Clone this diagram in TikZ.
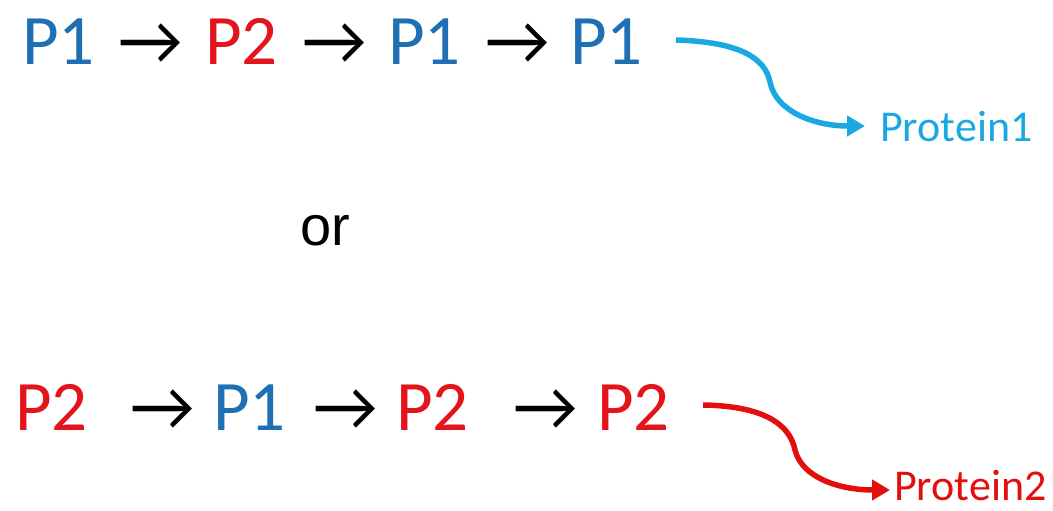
\documentclass[tikz,border=0pt]{standalone}
\usepackage{fontspec}
\setmainfont{Carlito}
\newfontfamily\orfont{Liberation Sans}
\usetikzlibrary{arrows.meta}
\definecolor{pblue}{HTML}{1F6FB5}
\definecolor{pred}{HTML}{E3141B}
\definecolor{lblue}{HTML}{1AA8E2}
\definecolor{cred}{HTML}{E30E0E}
\begin{document}
\begin{tikzpicture}[x=1pt,y=-1pt,
  tok/.style={anchor=base west,inner sep=0pt,font=\fontsize{71}{71}\selectfont},
  arr/.style={tok,text=black},
  b/.style={tok,text=pblue},
  r/.style={tok,text=pred},
  prot/.style={anchor=base west,inner sep=0pt,font=\fontsize{44}{44}\selectfont},
  curve/.style={line width=5.5pt,-{Triangle[length=18pt,width=20pt]}}]
\useasboundingbox (0,0) rectangle (1053,511);
% top row
\node[b]   (a1) at (22,65)  {P1};
\node[arr] (a2) at (118,65) {→};
\node[r]   (a3) at (205,65) {P2};
\node[arr] (a4) at (302,65) {→};
\node[b]   (a5) at (388,65) {P1};
\node[arr] (a6) at (485,65) {→};
\node[b]   (a7) at (570,65) {P1};
\node[prot,text=lblue] (p1) at (880,142) {Protein1};
\draw[curve,lblue] (676,40) .. controls (740,42) and (765,58) .. (770,82)
  .. controls (776,112) and (815,126) .. ([xshift=-15pt]p1.west |- 0,126);
% or
\node[anchor=base west,inner sep=0pt,font=\orfont\fontsize{56}{56}\selectfont] (or) at (300,245) {or};
% bottom row
\node[r]   (c1) at (15,430)  {P2};
\node[arr] (c2) at (130,430) {→};
\node[b]   (c3) at (213,430) {P1};
\node[arr] (c4) at (313,430) {→};
\node[r]   (c5) at (396,430) {P2};
\node[arr] (c6) at (513,430) {→};
\node[r]   (c7) at (597,430) {P2};
\node[prot,text=cred] (p2) at (894,500) {Protein2};
\draw[curve,cred] (703,405) .. controls (765,406) and (790,425) .. (795,450)
  .. controls (802,478) and (840,490) .. ([xshift=-4pt]p2.west |- 0,490);
\end{tikzpicture}
\end{document}
